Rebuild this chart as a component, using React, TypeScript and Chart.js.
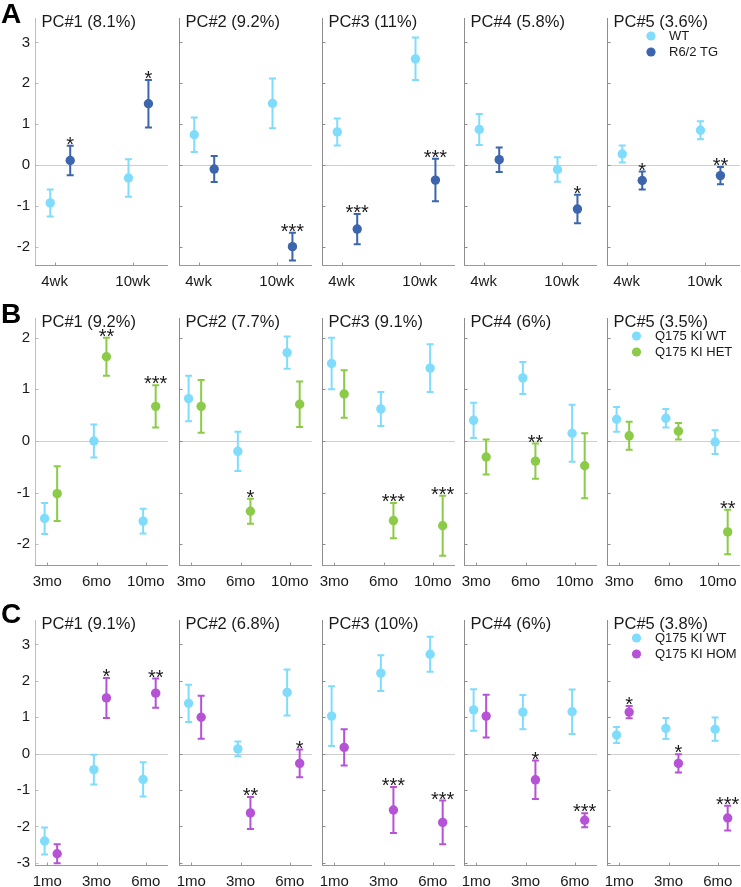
import React, { useEffect, useRef } from "react";
import { Chart, registerables } from "chart.js";

Chart.register(...registerables);

const FONT = '"Liberation Sans", Arial, Helvetica, sans-serif';
Chart.defaults.font.family = FONT;

// ---------------- Row A: R6/2 ----------------
const catsA = ["4wk", "10wk"];
const titlesA = ["PC#1 (8.1%)", "PC#2 (9.2%)", "PC#3 (11%)", "PC#4 (5.8%)", "PC#5 (3.6%)"];
const groupsA = ["WT", "R6/2 TG"];
const wtMeanA = [[-0.93, -0.32], [0.74, 1.51], [0.81, 2.6], [0.87, -0.11], [0.27, 0.85]];
const wtErrA = [[0.33, 0.46], [0.42, 0.61], [0.33, 0.52], [0.38, 0.3], [0.21, 0.22]];
const tgMeanA = [[0.11, 1.5], [-0.1, -2.0], [-1.57, -0.37], [0.13, -1.08], [-0.38, -0.26]];
const tgErrA = [[0.36, 0.58], [0.32, 0.34], [0.37, 0.52], [0.3, 0.35], [0.22, 0.21]];
const starsA = [["*", "*"], ["", "***"], ["***", "***"], ["", "*"], ["*", "**"]];
const yTicksA = [-2, -1, 0, 1, 2, 3];

// ---------------- Row B: Q175 HET ----------------
const catsB = ["3mo", "6mo", "10mo"];
const titlesB = ["PC#1 (9.2%)", "PC#2 (7.7%)", "PC#3 (9.1%)", "PC#4 (6%)", "PC#5 (3.5%)"];
const groupsB = ["Q175 KI WT", "Q175 KI HET"];
const wtMeanB = [[-1.5, 0.0, -1.55], [0.82, -0.2, 1.71], [1.5, 0.62, 1.41], [0.4, 1.22, 0.15], [0.42, 0.44, -0.02]];
const wtErrB = [[0.3, 0.32, 0.24], [0.44, 0.38, 0.31], [0.5, 0.33, 0.46], [0.34, 0.31, 0.55], [0.24, 0.18, 0.23]];
const hetMeanB = [[-1.02, 1.63, 0.67], [0.67, -1.36, 0.71], [0.91, -1.54, -1.64], [-0.31, -0.39, -0.48], [0.1, 0.19, -1.76]];
const hetErrB = [[0.53, 0.37, 0.41], [0.51, 0.24, 0.44], [0.46, 0.34, 0.58], [0.34, 0.34, 0.63], [0.27, 0.16, 0.43]];
const starsB = [["", "**", "***"], ["", "*", ""], ["", "***", "***"], ["", "**", ""], ["", "", "**"]];
const yTicksB = [-2, -1, 0, 1, 2];

// ---------------- Row C: Q175 HOM ----------------
const catsC = ["1mo", "3mo", "6mo"];
const titlesC = ["PC#1 (9.1%)", "PC#2 (6.8%)", "PC#3 (10%)", "PC#4 (6%)", "PC#5 (3.8%)"];
const groupsC = ["Q175 KI WT", "Q175 KI HOM"];
const wtMeanC = [[-2.4, -0.44, -0.71], [1.38, 0.13, 1.68], [1.03, 2.21, 2.73], [1.2, 1.14, 1.15], [0.51, 0.69, 0.67]];
const wtErrC = [[0.37, 0.41, 0.47], [0.51, 0.2, 0.63], [0.82, 0.49, 0.48], [0.57, 0.47, 0.61], [0.22, 0.29, 0.32]];
const homMeanC = [[-2.75, 1.53, 1.66], [1.0, -1.63, -0.27], [0.17, -1.55, -1.89], [1.03, -0.72, -1.83], [1.14, -0.27, -1.77]];
const homErrC = [[0.26, 0.55, 0.4], [0.59, 0.44, 0.38], [0.5, 0.63, 0.6], [0.59, 0.53, 0.19], [0.17, 0.25, 0.34]];
const starsC = [["", "*", "**"], ["", "**", "*"], ["", "***", "***"], ["", "*", "***"], ["*", "*", "***"]];
const yTicksC = [-3, -2, -1, 0, 1, 2, 3];

// ---------------- styles / layout ----------------
const WT_COLOR = "#80dcfc";
const TG_COLOR = "#3c65ad";
const HET_COLOR = "#8bcb48";
const HOM_COLOR = "#b552d6";
const ZERO_COLOR = "#cfcfcf";
const AXIS_LIGHT = "#bdbdbd";
const AXIS_DARK = "#8c8c8c";
const AXIS_BOTTOM = "#999999";
const TEXT_COLOR = "#1a1a1a";
const OFF_WT = -0.055;
const OFF_D = 0.2;

const PANEL_LEFT = [35, 179, 322, 464, 607];
const PANEL_W = 133;

type RowCfg = {
  letter: string;
  letterTop: number;
  cats: string[];
  titles: string[];
  groups: string[];
  wtMean: number[][];
  wtErr: number[][];
  dMean: number[][];
  dErr: number[][];
  stars: string[][];
  yTicks: number[];
  yMin: number;
  yMax: number;
  plotTop: number;
  plotBottom: number;
  dColor: string;
  legX: number;
  legTX: number;
};

const ROWS: RowCfg[] = [
  {
    letter: "A", letterTop: 0, cats: catsA, titles: titlesA, groups: groupsA,
    wtMean: wtMeanA, wtErr: wtErrA, dMean: tgMeanA, dErr: tgErrA, stars: starsA,
    yTicks: yTicksA, yMin: -2.45, yMax: 3.6, plotTop: 18, plotBottom: 265,
    dColor: TG_COLOR, legX: 44, legTX: 62,
  },
  {
    letter: "B", letterTop: 300, cats: catsB, titles: titlesB, groups: groupsB,
    wtMean: wtMeanB, wtErr: wtErrB, dMean: hetMeanB, dErr: hetErrB, stars: starsB,
    yTicks: yTicksB, yMin: -2.4, yMax: 2.38, plotTop: 318, plotBottom: 565,
    dColor: HET_COLOR, legX: 29.5, legTX: 48,
  },
  {
    letter: "C", letterTop: 600, cats: catsC, titles: titlesC, groups: groupsC,
    wtMean: wtMeanC, wtErr: wtErrC, dMean: homMeanC, dErr: homErrC, stars: starsC,
    yTicks: yTicksC, yMin: -3.06, yMax: 3.67, plotTop: 620, plotBottom: 865,
    dColor: HOM_COLOR, legX: 29.5, legTX: 48,
  },
];

const PAD_TOP = 18;
const PAD_RIGHT = 12;
const BOTTOM_SPACE = 32;

function Panel({ row, p }: { row: RowCfg; p: number }) {
  const ref = useRef<HTMLCanvasElement>(null);
  const axisLeft = PANEL_LEFT[p];
  const canvasLeft = p === 0 ? 0 : axisLeft - 16;
  const canvasRight = axisLeft + PANEL_W + PAD_RIGHT;
  const canvasTop = row.plotTop - PAD_TOP;
  const canvasBottom = row.plotBottom + BOTTOM_SPACE;
  const w = canvasRight - canvasLeft;
  const h = canvasBottom - canvasTop;

  useEffect(() => {
    const cats = row.cats;
    const n = cats.length;
    const datasets: any[] = [
      {
        label: row.groups[0],
        data: row.wtMean[p].map((m, i) => ({ x: i + 1 + OFF_WT, y: m })),
        err: row.wtErr[p],
        stars: null,
        backgroundColor: WT_COLOR,
        borderColor: WT_COLOR,
      },
      {
        label: row.groups[1],
        data: row.dMean[p].map((m, i) => ({ x: i + 1 + OFF_D, y: m })),
        err: row.dErr[p],
        stars: row.stars[p],
        backgroundColor: row.dColor,
        borderColor: row.dColor,
      },
    ];

    const deco = {
      id: "deco",
      beforeDatasetsDraw(chart: any) {
        const { ctx, chartArea: a, scales } = chart;
        const xs = scales.x;
        const ys = scales.y;
        ctx.save();
        // zero line
        const y0 = Math.round(ys.getPixelForValue(0)) + 0.5;
        ctx.lineWidth = 1;
        ctx.strokeStyle = ZERO_COLOR;
        ctx.beginPath();
        ctx.moveTo(a.left, y0);
        ctx.lineTo(a.right, y0);
        ctx.stroke();
        // left axis + ticks
        ctx.strokeStyle = p === 0 ? AXIS_LIGHT : AXIS_DARK;
        const lx = Math.round(a.left) + 0.5;
        ctx.beginPath();
        ctx.moveTo(lx, a.top);
        ctx.lineTo(lx, a.bottom);
        ys.ticks.forEach((t: any) => {
          const py = Math.round(ys.getPixelForValue(t.value)) + 0.5;
          ctx.moveTo(lx, py);
          ctx.lineTo(lx + 3, py);
        });
        ctx.stroke();
        // bottom axis + ticks
        ctx.strokeStyle = AXIS_BOTTOM;
        const by = Math.round(a.bottom) + 0.5;
        ctx.beginPath();
        ctx.moveTo(a.left, by);
        ctx.lineTo(a.right, by);
        xs.ticks.forEach((t: any) => {
          const px = Math.round(xs.getPixelForValue(t.value)) + 0.5;
          ctx.moveTo(px, by);
          ctx.lineTo(px, by - 3);
        });
        ctx.stroke();
        // error bars
        chart.data.datasets.forEach((ds: any) => {
          ctx.strokeStyle = ds.backgroundColor;
          ctx.lineWidth = 2;
          ds.data.forEach((pt: any, i: number) => {
            const px = xs.getPixelForValue(pt.x);
            const top = ys.getPixelForValue(pt.y + ds.err[i]);
            const bot = ys.getPixelForValue(pt.y - ds.err[i]);
            ctx.beginPath();
            ctx.moveTo(px, top);
            ctx.lineTo(px, bot);
            ctx.moveTo(px - 3.5, top);
            ctx.lineTo(px + 3.5, top);
            ctx.moveTo(px - 3.5, bot);
            ctx.lineTo(px + 3.5, bot);
            ctx.stroke();
          });
        });
        ctx.restore();
      },
      afterDatasetsDraw(chart: any) {
        const { ctx, chartArea: a, scales } = chart;
        const xs = scales.x;
        const ys = scales.y;
        ctx.save();
        // stars
        ctx.fillStyle = TEXT_COLOR;
        ctx.font = `20px ${FONT}`;
        ctx.textAlign = "center";
        ctx.textBaseline = "alphabetic";
        chart.data.datasets.forEach((ds: any) => {
          if (!ds.stars) return;
          ds.data.forEach((pt: any, i: number) => {
            const s = ds.stars[i];
            if (!s) return;
            const px = xs.getPixelForValue(pt.x);
            const top = ys.getPixelForValue(pt.y + ds.err[i]);
            ctx.fillText(s, px, top + 5);
          });
        });
        // title
        ctx.font = `16.5px ${FONT}`;
        ctx.textAlign = "left";
        ctx.fillText(row.titles[p], a.left + 6.5, a.top + 8.5);
        // legend
        if (p === 4) {
          ctx.font = `13px ${FONT}`;
          ctx.textBaseline = "middle";
          const colors = [WT_COLOR, row.dColor];
          row.groups.forEach((g, k) => {
            const cy = a.top + 18 + k * 16;
            ctx.fillStyle = colors[k];
            ctx.beginPath();
            ctx.arc(a.left + row.legX, cy, 4.6, 0, Math.PI * 2);
            ctx.fill();
            ctx.fillStyle = TEXT_COLOR;
            ctx.fillText(g, a.left + row.legTX, cy);
          });
        }
        ctx.restore();
      },
    };

    const chart = new Chart(ref.current as HTMLCanvasElement, {
      type: "scatter",
      data: { datasets },
      options: {
        animation: false,
        responsive: false,
        devicePixelRatio: 1,
        layout: { padding: { top: PAD_TOP, right: PAD_RIGHT, left: 0, bottom: 0 } },
        elements: {
          point: { radius: 4.7, hoverRadius: 4.7, borderWidth: 0, hoverBorderWidth: 0 },
        },
        plugins: { legend: { display: false }, tooltip: { enabled: false } },
        events: [],
        scales: {
          x: {
            type: "linear",
            min: 0.75,
            max: n + 0.45,
            grid: { display: false, drawTicks: false },
            border: { display: false },
            afterBuildTicks: (s: any) => {
              s.ticks = cats.map((_, i) => ({ value: i + 1 }));
            },
            ticks: {
              autoSkip: false,
              maxRotation: 0,
              minRotation: 0,
              padding: 8,
              color: TEXT_COLOR,
              font: { size: 15, family: FONT },
              callback: (v: any) => cats[Math.round(Number(v)) - 1] ?? "",
            },
            afterFit: (s: any) => {
              s.height = BOTTOM_SPACE;
            },
          },
          y: {
            type: "linear",
            min: row.yMin,
            max: row.yMax,
            grid: { display: false, drawTicks: false },
            border: { display: false },
            afterBuildTicks: (s: any) => {
              s.ticks = row.yTicks.map((v) => ({ value: v }));
            },
            ticks: {
              display: p === 0,
              padding: 5,
              color: TEXT_COLOR,
              font: { size: 15, family: FONT },
              callback: (v: any) => String(v),
            },
            afterFit: (s: any) => {
              s.width = axisLeft - canvasLeft;
            },
          },
        },
      } as any,
      plugins: [deco],
    });
    return () => chart.destroy();
  }, []);

  return (
    <canvas
      ref={ref}
      width={w}
      height={h}
      style={{ position: "absolute", left: canvasLeft, top: canvasTop, width: w, height: h, display: "block" }}
    />
  );
}

export default function App() {
  return (
    <div
      style={{
        position: "absolute",
        left: 0,
        top: 0,
        width: 741,
        height: 887,
        background: "#ffffff",
        overflow: "hidden",
      }}
    >
      {ROWS.map((row, r) => (
        <React.Fragment key={r}>
          {[0, 1, 2, 3, 4].map((p) => (
            <Panel key={p} row={row} p={p} />
          ))}
          <div
            style={{
              position: "absolute",
              left: 1,
              top: row.letterTop,
              fontFamily: FONT,
              fontWeight: "bold",
              fontSize: 28,
              lineHeight: "28px",
              color: "#000",
            }}
          >
            {row.letter}
          </div>
        </React.Fragment>
      ))}
    </div>
  );
}
